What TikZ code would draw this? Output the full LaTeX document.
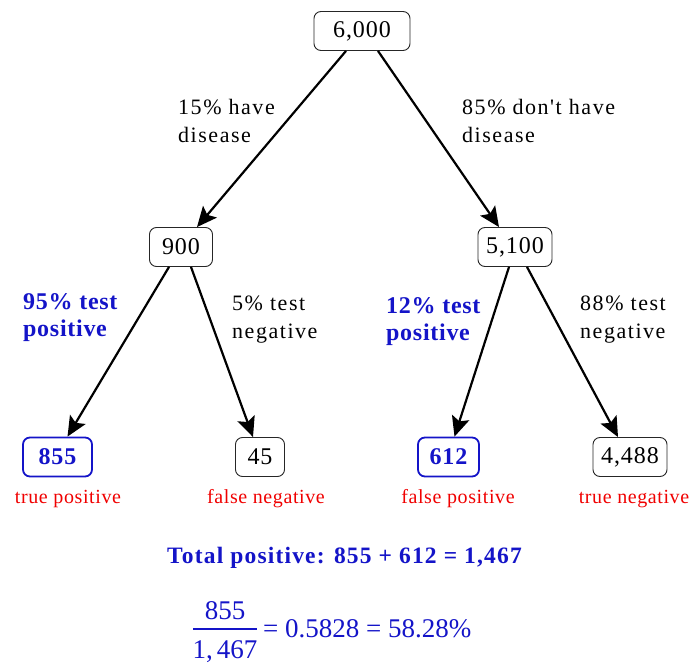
\documentclass[tikz,border=0pt]{standalone}
\usepackage{fontspec}
\setmainfont{Liberation Serif}
\newfontfamily\lblfont{Liberation Serif}[LetterSpace=7]
\newfontfamily\boldlblfont{Liberation Serif}[LetterSpace=3]
\newfontfamily\numfont{Liberation Serif}[LetterSpace=4]
\newfontfamily\redfont{Liberation Serif}[LetterSpace=3]
\newfontfamily\totfont{Liberation Serif}[LetterSpace=5]
\usetikzlibrary{arrows.meta}
\definecolor{myblue}{RGB}{20,20,200}
\definecolor{myred}{RGB}{240,0,0}
\begin{document}
\begin{tikzpicture}[x=1pt,y=-1pt,
  numbox/.style={draw=black!85, line width=0.9pt, rounded corners=7pt, minimum height=39pt, inner sep=0pt, font=\numfont\fontsize{24}{28}\selectfont},
  posbox/.style={numbox, draw=myblue, line width=1.8pt, text=myblue, font=\numfont\bfseries\fontsize{24}{28}\selectfont},
  arr/.style={line width=2.2pt, -{Stealth[length=20pt,width=18pt,inset=4pt]}},
  lbl/.style={anchor=north west, inner sep=0pt, align=left, font=\lblfont\fontsize{22}{28}\selectfont},
  plbl/.style={lbl, text=myblue, font=\boldlblfont\bfseries\fontsize{24}{27}\selectfont},
  outc/.style={anchor=base, inner sep=0pt, text=myred, font=\redfont\fontsize{20}{22}\selectfont},
  formula/.style={inner sep=0pt, text=myblue, font=\fontsize{27}{30}\selectfont},
  fracbar/.style={draw=myblue, line width=1.3pt}
]
\useasboundingbox (0,0) rectangle (694,663);

% number boxes
\node[numbox, minimum width=96pt] (n6000) at (362,31) {6,000};
\node[numbox, minimum width=63pt] (n900) at (181,247) {900};
\node[numbox, minimum width=74pt] (n5100) at (515,247) {5,100};
\node[posbox, minimum width=69pt] (n855) at (57.5,457) {855};
\node[numbox, minimum width=49pt] (n45) at (260,457) {45};
\node[posbox, minimum width=61pt] (n612) at (448.5,457) {612};
\node[numbox, minimum width=74pt] (n4488) at (630,457) {4,488};

% arrows
\draw[arr] ([xshift=-16pt]n6000.south) -- ([xshift=16pt]n900.north);
\draw[arr] ([xshift=16pt]n6000.south) -- ([xshift=-16pt]n5100.north);
\draw[arr] ([xshift=-12pt]n900.south) -- ([xshift=10pt]n855.north);
\draw[arr] ([xshift=10pt]n900.south) -- ([xshift=-7pt]n45.north);
\draw[arr] ([xshift=-6pt]n5100.south) -- ([xshift=6pt]n612.north);
\draw[arr] ([xshift=12pt]n5100.south) -- ([xshift=-12pt]n4488.north);

% branch labels
\node[lbl] (l15) at (178,99) {15\% have\\disease};
\node[lbl] (l85) at (462,99) {85\% don't have\\disease};
\node[plbl] (l95) at (23,293) {95\% test\\positive};
\node[lbl] (l5) at (232,296) {5\% test\\negative};
\node[plbl] (l12) at (386,297) {12\% test\\positive};
\node[lbl] (l88) at (580,296) {88\% test\\negative};

% outcome labels
\node[outc] (tp) at (68,503) {true positive};
\node[outc] (fn) at (266,503) {false negative};
\node[outc] (fp) at (458,503) {false positive};
\node[outc] (tn) at (634,503) {true negative};

% total
\node[anchor=base, inner sep=0pt, text=myblue, font=\totfont\bfseries\fontsize{23.5}{26}\selectfont] (total) at (344.5,563) {Total positive: 855 + 612 = 1,467};

% formula
\node[formula, anchor=base] (num) at (225,619) {855};
\node[formula, anchor=base] (den) at (225,658) {1,\kern4pt 467};
\coordinate (barL) at (193,629);
\coordinate (barR) at (257,629);
\draw[fracbar] (barL) -- (barR);
\node[formula, anchor=base west] (rest) at (263,637) {= 0.5828 = 58.28\%};
\end{tikzpicture}
\end{document}
